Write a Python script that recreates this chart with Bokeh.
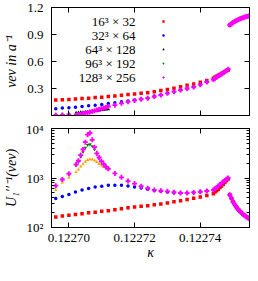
from bokeh.plotting import figure
from bokeh.models import (Range1d, FixedTicker, PrintfTickFormatter, LinearAxis, LogAxis,
                          Legend, LegendItem, Label, ColumnDataSource)
from bokeh.layouts import column
from bokeh.embed import file_html
from bokeh.resources import INLINE
from bokeh.core.properties import value

# ---------------- data ----------------
kappa_coarse = [0.122696, 0.122698, 0.122700, 0.122702, 0.122704, 0.122706, 0.122708,
                0.122710, 0.122712, 0.122714, 0.122716, 0.122718, 0.122720, 0.122722,
                0.122724, 0.122726, 0.122728, 0.122730, 0.122732, 0.122734, 0.122736,
                0.122738, 0.122740, 0.122742, 0.122744]
kappa_jump = [0.1227445, 0.1227450, 0.1227455, 0.1227460, 0.1227465, 0.1227470,
              0.1227475, 0.1227480, 0.1227485]
kappa_upper = [0.1227490, 0.1227495, 0.1227500, 0.1227505, 0.1227510, 0.1227515,
               0.1227520, 0.1227525, 0.1227530, 0.1227535, 0.1227540, 0.1227545, 0.1227550]
kappa_peak = [0.1227022, 0.1227029, 0.1227036, 0.1227043, 0.1227050, 0.1227057,
              0.1227064, 0.1227071, 0.1227078, 0.1227085, 0.1227092, 0.1227099,
              0.1227106, 0.1227113, 0.1227120]

series_labels = ["16³ × 32", "32³ × 64", "64³ × 128", "96³ × 192", "128³ × 256"]

# vev in lattice units (top panel)
vev_16 = [0.171, 0.175, 0.179, 0.182, 0.190, 0.193, 0.200, 0.204, 0.211, 0.218, 0.225,
          0.232, 0.239, 0.246, 0.254, 0.265, 0.278, 0.289, 0.303, 0.320, 0.335, 0.350,
          0.370, 0.390, 0.415,
          0.428, 0.437, 0.446, 0.456, 0.466, 0.476, 0.486, 0.496, 0.506,
          1.005, 1.020, 1.033, 1.045, 1.055, 1.064, 1.072, 1.080, 1.087, 1.093, 1.099,
          1.104, 1.109]
vev_32 = [0.075, 0.082, 0.086, 0.093, 0.100, 0.107, 0.115, 0.121, 0.132, 0.143, 0.152,
          0.162, 0.172, 0.182, 0.193, 0.211, 0.228, 0.246, 0.265, 0.282, 0.300, 0.318,
          0.343, 0.372, 0.400,
          0.412, 0.424, 0.436, 0.448, 0.460, 0.472, 0.485, 0.498, 0.512,
          1.004, 1.019, 1.032, 1.044, 1.054, 1.063, 1.071, 1.079, 1.086, 1.092, 1.098,
          1.103, 1.108]
vev_64 = [0.010, 0.012, 0.014,
          0.030, 0.032, 0.035, 0.037, 0.040, 0.042, 0.045, 0.048, 0.051, 0.054, 0.057,
          0.060, 0.063, 0.066, 0.069]
vev_96 = [0.006, 0.008, 0.010,
          0.008, 0.012, 0.017, 0.022, 0.028, 0.034, 0.040, 0.047, 0.054, 0.062, 0.070,
          0.078, 0.086, 0.094, 0.102]
vev_128 = [0.004, 0.006, 0.008,
           0.005, 0.010, 0.015, 0.020, 0.026, 0.032, 0.038, 0.045, 0.052, 0.060, 0.068,
           0.076, 0.084, 0.092, 0.100,
           0.115, 0.135, 0.152, 0.168, 0.180, 0.193, 0.211, 0.228, 0.246, 0.265, 0.282,
           0.300, 0.318, 0.343, 0.372, 0.400,
           0.414, 0.426, 0.438, 0.450, 0.462, 0.474, 0.487, 0.500, 0.515,
           1.005, 1.020, 1.033, 1.045, 1.055, 1.064, 1.072, 1.080, 1.087, 1.093, 1.099,
           1.104, 1.109]

# inverse curvature U''^-1 in vev units (bottom panel)
u_16 = [163, 171, 176, 184, 190, 198, 203, 212, 219, 228, 238, 252, 260, 268, 276, 288,
        300, 313, 333, 346, 368, 390, 414, 443, 480,
        520, 555, 595, 640, 690, 745, 810, 880, 960,
        460, 390, 330, 290, 260, 235, 215, 200, 186, 175, 165, 157, 150]
u_32 = [385, 425, 463, 521, 569, 612, 656, 685, 710, 716, 716, 690, 660, 628, 594, 560,
        540, 521, 506, 499, 499, 512, 528, 545, 570,
        600, 640, 680, 725, 775, 830, 885, 940, 990,
        455, 385, 328, 288, 258, 234, 214, 199, 185, 174, 164, 156, 149]
u_64 = [575, 815, 1014,
        1320, 1480, 1700, 1900, 2120, 2300, 2380, 2360, 2250, 2100, 1930, 1780, 1660,
        1560, 1490]
u_96 = [690, 920, 1210,
        1790, 2100, 2680, 3360, 4100, 4650, 4780, 4400, 3750, 3030, 2500, 2130, 1870,
        1680, 1540]
u_128 = [700, 930, 1220,
         1870, 2230, 2900, 3760, 5300, 7500, 8100, 5900, 4200, 3150, 2600, 2180, 1900,
         1680, 1540,
         1240, 1030, 867, 771, 685, 620, 575, 552, 537, 514, 499, 499, 512, 528, 545, 570,
         605, 645, 690, 735, 785, 840, 895, 950, 1000,
         460, 390, 330, 290, 260, 235, 215, 200, 186, 175, 165, 157, 150]

x_ticks = [0.12270, 0.12272, 0.12274]
vev_ticks = [0.3, 0.6, 0.9, 1.2]
u_ticks = [100, 1000, 10000]
u_minor = [200, 300, 400, 500, 600, 700, 800, 900,
           2000, 3000, 4000, 5000, 6000, 7000, 8000, 9000]

# ---------------- series kappa grids ----------------
k_full = kappa_coarse + kappa_jump + kappa_upper
k_small = kappa_coarse[:3] + kappa_peak
k_big = kappa_coarse[:3] + kappa_peak + kappa_coarse[9:] + kappa_jump + kappa_upper

FONT = "Liberation Serif"
X_RANGE = (0.1226947, 0.122755)


def style_axis(ax, show_labels=True):
    ax.major_tick_in = 5
    ax.major_tick_out = 0
    ax.minor_tick_in = 3
    ax.minor_tick_out = 0
    ax.axis_line_color = "black"
    ax.major_tick_line_color = "black"
    ax.minor_tick_line_color = "black"
    ax.major_label_text_font = FONT
    ax.major_label_text_font_size = "13px"
    ax.major_label_text_color = "black"
    ax.axis_label_text_font = FONT
    ax.axis_label_text_font_size = "14px"
    ax.axis_label_text_font_style = "italic"
    ax.axis_label_text_color = "black"
    ax.major_label_standoff = 8
    if not show_labels:
        ax.major_label_text_font_size = "1px"
        ax.major_label_text_color = None
        ax.major_label_standoff = 0
        ax.axis_label_standoff = 0


def make_fig(height, y_range, y_type, top, bottom):
    p = figure(width=250, height=height, x_range=Range1d(*X_RANGE),
               y_range=y_range, y_axis_type=y_type, output_backend="svg",
               toolbar_location=None, min_border_left=47, min_border_right=1,
               min_border_top=top, min_border_bottom=bottom)
    p.xgrid.visible = False
    p.ygrid.visible = False
    p.outline_line_color = "black"
    p.outline_line_alpha = 1
    p.background_fill_color = "white"
    p.border_fill_color = "white"
    return p


# ---------------- top panel (frame 108 px tall) ----------------
p1 = make_fig(121, Range1d(0, 1.2), "linear", 7, 6)
p1.xaxis[0].ticker = FixedTicker(ticks=x_ticks)
style_axis(p1.xaxis[0], show_labels=False)
p1.yaxis[0].ticker = FixedTicker(ticks=vev_ticks)
p1.yaxis[0].formatter = PrintfTickFormatter(format="%.1f")
p1.yaxis[0].axis_label = "vev in a⁻¹"
style_axis(p1.yaxis[0])
p1.yaxis[0].axis_label_standoff = 5
ax_top = LinearAxis(ticker=FixedTicker(ticks=x_ticks))
style_axis(ax_top, show_labels=False)
p1.add_layout(ax_top, "above")
ax_right = LinearAxis(ticker=FixedTicker(ticks=vev_ticks))
style_axis(ax_right, show_labels=False)
p1.add_layout(ax_right, "right")

top_specs = [
    (k_full, vev_16, "square", 3.5, "#ff0000"),
    (k_full, vev_32, "circle", 3.5, "#0000ff"),
    (k_small, vev_64, "triangle", 3.5, "#000000"),
    (k_small, vev_96, "inverted_triangle", 3.5, "#007a00"),
    (k_big, vev_128, "plus", 5, "#ff00ff"),
]
top_renderers = []
for kx, vy, mk, sz, col in top_specs:
    src = ColumnDataSource(data=dict(x=kx, y=vy))
    r = p1.scatter("x", "y", source=src, marker=mk, size=sz, fill_color=col,
                   line_color=None)
    top_renderers.append(r)

legend = Legend(items=[LegendItem(label=value(" "), renderers=[r]) for r in top_renderers],
                location=(109, 35), orientation="vertical", glyph_width=6, glyph_height=6,
                label_width=0, label_height=6, label_standoff=0, spacing=8, padding=0,
                margin=0, border_line_color=None, background_fill_alpha=0,
                label_text_font_size="1px")
p1.add_layout(legend)
for i, t in enumerate(series_labels):
    p1.add_layout(Label(x=84, y=94.5 - 14 * i, x_units="screen", y_units="screen", text=t,
                        text_align="right", text_baseline="middle", text_font=FONT,
                        text_font_size="13px", text_color="black"))

# ---------------- bottom panel (frame 99 px tall) ----------------
p2 = make_fig(144, Range1d(100, 10000), "log", 7, 38)
p2.xaxis[0].ticker = FixedTicker(ticks=x_ticks)
p2.xaxis[0].formatter = PrintfTickFormatter(format="%.5f")
p2.xaxis[0].axis_label = "κ"
style_axis(p2.xaxis[0])
p2.xaxis[0].major_label_standoff = 6
p2.xaxis[0].axis_label_standoff = 0
p2.yaxis[0].ticker = FixedTicker(ticks=u_ticks, minor_ticks=u_minor)
p2.yaxis[0].major_label_overrides = {100: "10²", 1000: "10³", 10000: "10⁴"}
p2.yaxis[0].axis_label = "U₁′′⁻¹(vev)"
style_axis(p2.yaxis[0])
p2.yaxis[0].axis_label_standoff = 4
ax_top2 = LinearAxis(ticker=FixedTicker(ticks=x_ticks))
style_axis(ax_top2, show_labels=False)
p2.add_layout(ax_top2, "above")
ax_right2 = LogAxis(ticker=FixedTicker(ticks=u_ticks, minor_ticks=u_minor))
style_axis(ax_right2, show_labels=False)
p2.add_layout(ax_right2, "right")

bottom_specs = [
    (k_full, u_16, "square", 3.5, "#ff0000"),
    (k_full, u_32, "circle", 3.5, "#0000ff"),
    (k_small, u_64, "triangle", 3.5, "#ffa500"),
    (k_small, u_96, "inverted_triangle", 3.5, "#007a00"),
    (k_big, u_128, "plus", 5, "#ff00ff"),
]
for kx, uy, mk, sz, col in bottom_specs:
    src = ColumnDataSource(data=dict(x=kx, y=uy))
    p2.scatter("x", "y", source=src, marker=mk, size=sz, fill_color=col, line_color=None)

layout = column(p1, p2, spacing=0)
open("out.html", "w").write(file_html(layout, INLINE))
